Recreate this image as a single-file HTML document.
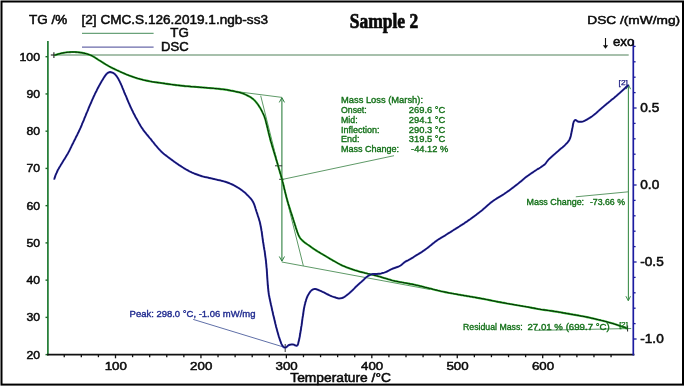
<!DOCTYPE html>
<html><head><meta charset="utf-8"><style>
html,body{margin:0;padding:0;background:#fff;}
svg{display:block;font-family:"Liberation Sans", sans-serif;filter:blur(0.3px);}
</style></head><body>
<svg width="685" height="387" viewBox="0 0 685 387" font-family='"Liberation Sans", sans-serif' fill="#111">
<rect width="685" height="387" fill="#fff"/>
<rect x="1.5" y="1.5" width="681.5" height="383.1" fill="none" stroke="#000" stroke-width="2"/>
<line x1="54" y1="55.1" x2="628.7" y2="55.1" stroke="#8aab90" stroke-width="1.5"/>
<line x1="82" y1="33.3" x2="153.6" y2="33.3" stroke="#6aa27a" stroke-width="1.3"/>
<line x1="82" y1="47.2" x2="153.6" y2="47.2" stroke="#6a6aaa" stroke-width="1.3"/>
<line x1="47.9" y1="41.1" x2="47.9" y2="355.4" stroke="#1f7a32" stroke-width="1.7"/>
<line x1="45.5" y1="354.62" x2="48" y2="354.62" stroke="#1d6b2a" stroke-width="1.4"/>
<text x="26.40" y="358.62" font-size="11.60" fill="#0a0a0a" textLength="13.60" lengthAdjust="spacingAndGlyphs" stroke="#0a0a0a" stroke-width="0.50">20</text>
<line x1="45.5" y1="317.38" x2="48" y2="317.38" stroke="#1d6b2a" stroke-width="1.4"/>
<text x="26.40" y="321.38" font-size="11.60" fill="#0a0a0a" textLength="13.60" lengthAdjust="spacingAndGlyphs" stroke="#0a0a0a" stroke-width="0.50">30</text>
<line x1="45.5" y1="280.14" x2="48" y2="280.14" stroke="#1d6b2a" stroke-width="1.4"/>
<text x="26.40" y="284.14" font-size="11.60" fill="#0a0a0a" textLength="13.60" lengthAdjust="spacingAndGlyphs" stroke="#0a0a0a" stroke-width="0.50">40</text>
<line x1="45.5" y1="242.90" x2="48" y2="242.90" stroke="#1d6b2a" stroke-width="1.4"/>
<text x="26.40" y="246.90" font-size="11.60" fill="#0a0a0a" textLength="13.60" lengthAdjust="spacingAndGlyphs" stroke="#0a0a0a" stroke-width="0.50">50</text>
<line x1="45.5" y1="205.66" x2="48" y2="205.66" stroke="#1d6b2a" stroke-width="1.4"/>
<text x="26.40" y="209.66" font-size="11.60" fill="#0a0a0a" textLength="13.60" lengthAdjust="spacingAndGlyphs" stroke="#0a0a0a" stroke-width="0.50">60</text>
<line x1="45.5" y1="168.42" x2="48" y2="168.42" stroke="#1d6b2a" stroke-width="1.4"/>
<text x="26.40" y="172.42" font-size="11.60" fill="#0a0a0a" textLength="13.60" lengthAdjust="spacingAndGlyphs" stroke="#0a0a0a" stroke-width="0.50">70</text>
<line x1="45.5" y1="131.18" x2="48" y2="131.18" stroke="#1d6b2a" stroke-width="1.4"/>
<text x="26.40" y="135.18" font-size="11.60" fill="#0a0a0a" textLength="13.60" lengthAdjust="spacingAndGlyphs" stroke="#0a0a0a" stroke-width="0.50">80</text>
<line x1="45.5" y1="93.94" x2="48" y2="93.94" stroke="#1d6b2a" stroke-width="1.4"/>
<text x="26.40" y="97.94" font-size="11.60" fill="#0a0a0a" textLength="13.60" lengthAdjust="spacingAndGlyphs" stroke="#0a0a0a" stroke-width="0.50">90</text>
<line x1="45.5" y1="56.70" x2="48" y2="56.70" stroke="#1d6b2a" stroke-width="1.4"/>
<text x="19.45" y="60.70" font-size="11.60" fill="#0a0a0a" textLength="20.55" lengthAdjust="spacingAndGlyphs" stroke="#0a0a0a" stroke-width="0.50">100</text>
<line x1="47.2" y1="354.6" x2="634.4" y2="354.6" stroke="#111" stroke-width="1.8"/>
<line x1="64.24" y1="354.6" x2="64.24" y2="357.20" stroke="#111" stroke-width="1.3"/>
<line x1="81.32" y1="354.6" x2="81.32" y2="357.20" stroke="#111" stroke-width="1.3"/>
<line x1="98.41" y1="354.6" x2="98.41" y2="357.20" stroke="#111" stroke-width="1.3"/>
<line x1="115.50" y1="354.6" x2="115.50" y2="358.30" stroke="#111" stroke-width="1.3"/>
<text x="104.70" y="370.40" font-size="11.80" fill="#0a0a0a" textLength="22.20" lengthAdjust="spacingAndGlyphs" stroke="#0a0a0a" stroke-width="0.50">100</text>
<line x1="132.59" y1="354.6" x2="132.59" y2="357.20" stroke="#111" stroke-width="1.3"/>
<line x1="149.68" y1="354.6" x2="149.68" y2="357.20" stroke="#111" stroke-width="1.3"/>
<line x1="166.76" y1="354.6" x2="166.76" y2="357.20" stroke="#111" stroke-width="1.3"/>
<line x1="183.85" y1="354.6" x2="183.85" y2="357.20" stroke="#111" stroke-width="1.3"/>
<line x1="200.94" y1="354.6" x2="200.94" y2="358.30" stroke="#111" stroke-width="1.3"/>
<text x="190.14" y="370.40" font-size="11.80" fill="#0a0a0a" textLength="22.20" lengthAdjust="spacingAndGlyphs" stroke="#0a0a0a" stroke-width="0.50">200</text>
<line x1="218.03" y1="354.6" x2="218.03" y2="357.20" stroke="#111" stroke-width="1.3"/>
<line x1="235.12" y1="354.6" x2="235.12" y2="357.20" stroke="#111" stroke-width="1.3"/>
<line x1="252.20" y1="354.6" x2="252.20" y2="357.20" stroke="#111" stroke-width="1.3"/>
<line x1="269.29" y1="354.6" x2="269.29" y2="357.20" stroke="#111" stroke-width="1.3"/>
<line x1="286.38" y1="354.6" x2="286.38" y2="358.30" stroke="#111" stroke-width="1.3"/>
<text x="275.58" y="370.40" font-size="11.80" fill="#0a0a0a" textLength="22.20" lengthAdjust="spacingAndGlyphs" stroke="#0a0a0a" stroke-width="0.50">300</text>
<line x1="303.47" y1="354.6" x2="303.47" y2="357.20" stroke="#111" stroke-width="1.3"/>
<line x1="320.56" y1="354.6" x2="320.56" y2="357.20" stroke="#111" stroke-width="1.3"/>
<line x1="337.64" y1="354.6" x2="337.64" y2="357.20" stroke="#111" stroke-width="1.3"/>
<line x1="354.73" y1="354.6" x2="354.73" y2="357.20" stroke="#111" stroke-width="1.3"/>
<line x1="371.82" y1="354.6" x2="371.82" y2="358.30" stroke="#111" stroke-width="1.3"/>
<text x="361.02" y="370.40" font-size="11.80" fill="#0a0a0a" textLength="22.20" lengthAdjust="spacingAndGlyphs" stroke="#0a0a0a" stroke-width="0.50">400</text>
<line x1="388.91" y1="354.6" x2="388.91" y2="357.20" stroke="#111" stroke-width="1.3"/>
<line x1="406.00" y1="354.6" x2="406.00" y2="357.20" stroke="#111" stroke-width="1.3"/>
<line x1="423.08" y1="354.6" x2="423.08" y2="357.20" stroke="#111" stroke-width="1.3"/>
<line x1="440.17" y1="354.6" x2="440.17" y2="357.20" stroke="#111" stroke-width="1.3"/>
<line x1="457.26" y1="354.6" x2="457.26" y2="358.30" stroke="#111" stroke-width="1.3"/>
<text x="446.46" y="370.40" font-size="11.80" fill="#0a0a0a" textLength="22.20" lengthAdjust="spacingAndGlyphs" stroke="#0a0a0a" stroke-width="0.50">500</text>
<line x1="474.35" y1="354.6" x2="474.35" y2="357.20" stroke="#111" stroke-width="1.3"/>
<line x1="491.44" y1="354.6" x2="491.44" y2="357.20" stroke="#111" stroke-width="1.3"/>
<line x1="508.52" y1="354.6" x2="508.52" y2="357.20" stroke="#111" stroke-width="1.3"/>
<line x1="525.61" y1="354.6" x2="525.61" y2="357.20" stroke="#111" stroke-width="1.3"/>
<line x1="542.70" y1="354.6" x2="542.70" y2="358.30" stroke="#111" stroke-width="1.3"/>
<text x="531.90" y="370.40" font-size="11.80" fill="#0a0a0a" textLength="22.20" lengthAdjust="spacingAndGlyphs" stroke="#0a0a0a" stroke-width="0.50">600</text>
<line x1="559.79" y1="354.6" x2="559.79" y2="357.20" stroke="#111" stroke-width="1.3"/>
<line x1="576.88" y1="354.6" x2="576.88" y2="357.20" stroke="#111" stroke-width="1.3"/>
<line x1="593.96" y1="354.6" x2="593.96" y2="357.20" stroke="#111" stroke-width="1.3"/>
<line x1="611.05" y1="354.6" x2="611.05" y2="357.20" stroke="#111" stroke-width="1.3"/>
<text x="290.30" y="382.00" font-size="12.00" fill="#0a0a0a" textLength="100.60" lengthAdjust="spacingAndGlyphs" stroke="#0a0a0a" stroke-width="0.50">Temperature /°C</text>
<line x1="633.3" y1="40.3" x2="633.3" y2="355.4" stroke="#1c1ca0" stroke-width="1.7"/>
<line x1="633.3" y1="339.00" x2="636.60" y2="339.00" stroke="#1c1ca0" stroke-width="1.3"/>
<text x="640.30" y="343.30" font-size="11.90" fill="#0a0a0a" textLength="23.40" lengthAdjust="spacingAndGlyphs" stroke="#0a0a0a" stroke-width="0.50">-1.0</text>
<line x1="633.3" y1="323.60" x2="635.60" y2="323.60" stroke="#1c1ca0" stroke-width="1.3"/>
<line x1="633.3" y1="308.20" x2="635.60" y2="308.20" stroke="#1c1ca0" stroke-width="1.3"/>
<line x1="633.3" y1="292.80" x2="635.60" y2="292.80" stroke="#1c1ca0" stroke-width="1.3"/>
<line x1="633.3" y1="277.40" x2="635.60" y2="277.40" stroke="#1c1ca0" stroke-width="1.3"/>
<line x1="633.3" y1="262.00" x2="636.60" y2="262.00" stroke="#1c1ca0" stroke-width="1.3"/>
<text x="640.30" y="266.30" font-size="11.90" fill="#0a0a0a" textLength="23.40" lengthAdjust="spacingAndGlyphs" stroke="#0a0a0a" stroke-width="0.50">-0.5</text>
<line x1="633.3" y1="246.60" x2="635.60" y2="246.60" stroke="#1c1ca0" stroke-width="1.3"/>
<line x1="633.3" y1="231.20" x2="635.60" y2="231.20" stroke="#1c1ca0" stroke-width="1.3"/>
<line x1="633.3" y1="215.80" x2="635.60" y2="215.80" stroke="#1c1ca0" stroke-width="1.3"/>
<line x1="633.3" y1="200.40" x2="635.60" y2="200.40" stroke="#1c1ca0" stroke-width="1.3"/>
<line x1="633.3" y1="185.00" x2="636.60" y2="185.00" stroke="#1c1ca0" stroke-width="1.3"/>
<text x="640.30" y="189.30" font-size="11.90" fill="#0a0a0a" textLength="18.90" lengthAdjust="spacingAndGlyphs" stroke="#0a0a0a" stroke-width="0.50">0.0</text>
<line x1="633.3" y1="169.60" x2="635.60" y2="169.60" stroke="#1c1ca0" stroke-width="1.3"/>
<line x1="633.3" y1="154.20" x2="635.60" y2="154.20" stroke="#1c1ca0" stroke-width="1.3"/>
<line x1="633.3" y1="138.80" x2="635.60" y2="138.80" stroke="#1c1ca0" stroke-width="1.3"/>
<line x1="633.3" y1="123.40" x2="635.60" y2="123.40" stroke="#1c1ca0" stroke-width="1.3"/>
<line x1="633.3" y1="108.00" x2="636.60" y2="108.00" stroke="#1c1ca0" stroke-width="1.3"/>
<text x="640.30" y="112.30" font-size="11.90" fill="#0a0a0a" textLength="18.90" lengthAdjust="spacingAndGlyphs" stroke="#0a0a0a" stroke-width="0.50">0.5</text>
<line x1="633.3" y1="92.60" x2="635.60" y2="92.60" stroke="#1c1ca0" stroke-width="1.3"/>
<line x1="633.3" y1="77.20" x2="635.60" y2="77.20" stroke="#1c1ca0" stroke-width="1.3"/>
<line x1="633.3" y1="61.80" x2="635.60" y2="61.80" stroke="#1c1ca0" stroke-width="1.3"/>
<line x1="633.3" y1="46.40" x2="635.60" y2="46.40" stroke="#1c1ca0" stroke-width="1.3"/>
<line x1="232" y1="91.0" x2="282" y2="97.4" stroke="#5f9a68" stroke-width="1"/>
<line x1="260.7" y1="95.7" x2="303.4" y2="266" stroke="#5f9a68" stroke-width="1"/>
<line x1="281.8" y1="262.0" x2="430" y2="289.5" stroke="#5f9a68" stroke-width="1"/>
<line x1="281.9" y1="98" x2="281.9" y2="261" stroke="#2f8040" stroke-width="1.1"/>
<polyline points="279.3,102.4 281.9,97.6 284.5,102.4" fill="none" stroke="#2f8040" stroke-width="1"/>
<polyline points="279.3,256.5 281.9,261.2 284.5,256.5" fill="none" stroke="#2f8040" stroke-width="1"/>
<line x1="275" y1="165.8" x2="282.1" y2="165.8" stroke="#333" stroke-width="1"/>
<line x1="279.2" y1="179.3" x2="284.1" y2="179.3" stroke="#333" stroke-width="1"/>
<line x1="282" y1="179.5" x2="394" y2="155.7" stroke="#5f9a68" stroke-width="1"/>
<line x1="628.4" y1="85" x2="628.4" y2="300.5" stroke="#3f8f4c" stroke-width="1.1"/>
<polyline points="626.2,89.2 628.4,84.7 630.6,89.2" fill="none" stroke="#3f8f4c" stroke-width="1"/>
<polyline points="625.9,296.2 628.3,300.8 630.5,296.2" fill="none" stroke="#3f8f4c" stroke-width="1"/>
<line x1="575.8" y1="196.8" x2="628.4" y2="191.8" stroke="#5f9a68" stroke-width="1"/>
<line x1="534.6" y1="330.4" x2="631.2" y2="328.5" stroke="#5f9a68" stroke-width="1"/>
<line x1="627.6" y1="325.5" x2="627.6" y2="331.5" stroke="#222" stroke-width="1"/>
<line x1="193.2" y1="319.4" x2="283.8" y2="347.1" stroke="#6070a8" stroke-width="1"/>
<line x1="285.2" y1="344" x2="285.2" y2="352" stroke="#333" stroke-width="1"/>
<line x1="50.8" y1="55.0" x2="56.6" y2="55.0" stroke="#222" stroke-width="1.1"/>
<line x1="53.9" y1="52.2" x2="53.9" y2="58" stroke="#222" stroke-width="1.1"/>
<path d="M54.6,55.1 L55.6,54.9 L56.9,54.5 L58.3,54.1 L59.8,53.7 L61.2,53.3 L62.7,53.0 L64.2,52.7 L65.6,52.5 L67.1,52.3 L68.6,52.2 L70.1,52.1 L71.6,52.0 L73.1,52.0 L74.6,52.0 L76.1,52.1 L77.6,52.2 L79.1,52.4 L80.6,52.6 L82.1,52.8 L83.5,53.1 L85.0,53.4 L86.5,53.8 L87.9,54.2 L89.3,54.7 L90.7,55.2 L92.1,55.9 L93.4,56.6 L94.7,57.4 L95.9,58.2 L97.2,59.0 L98.4,59.8 L99.7,60.6 L101.0,61.4 L102.2,62.2 L103.5,63.0 L104.8,63.8 L106.1,64.6 L107.4,65.3 L108.7,66.1 L110.0,66.8 L111.3,67.5 L112.7,68.2 L114.0,68.8 L115.4,69.5 L116.7,70.1 L118.1,70.7 L119.5,71.4 L120.8,72.0 L122.2,72.6 L123.6,73.2 L124.9,73.8 L126.3,74.4 L127.7,74.9 L129.1,75.5 L130.5,76.0 L131.9,76.5 L133.3,77.0 L134.8,77.5 L136.2,77.9 L137.6,78.4 L139.1,78.8 L140.5,79.2 L142.0,79.6 L143.4,80.0 L144.9,80.3 L146.3,80.6 L147.8,80.9 L149.3,81.2 L150.7,81.5 L152.2,81.8 L153.7,82.0 L155.2,82.2 L156.7,82.4 L158.2,82.6 L159.6,82.8 L161.1,83.0 L162.6,83.2 L164.1,83.4 L165.6,83.7 L167.1,83.9 L168.6,84.1 L170.0,84.3 L171.5,84.5 L173.0,84.7 L174.5,84.9 L176.0,85.1 L177.5,85.3 L179.0,85.4 L180.5,85.6 L182.0,85.8 L183.4,85.9 L184.9,86.1 L186.4,86.2 L187.9,86.3 L189.4,86.4 L190.9,86.6 L192.4,86.7 L193.9,86.8 L195.4,86.9 L196.9,87.0 L198.4,87.1 L199.9,87.3 L201.4,87.4 L202.9,87.5 L204.4,87.6 L205.9,87.7 L207.4,87.9 L208.9,88.0 L210.4,88.1 L211.9,88.2 L213.3,88.3 L214.8,88.5 L216.3,88.6 L217.8,88.7 L219.3,88.9 L220.8,89.1 L222.3,89.2 L223.8,89.4 L225.3,89.6 L226.8,89.8 L228.2,90.1 L229.7,90.4 L231.2,90.7 L232.7,90.9 L234.1,91.2 L235.6,91.6 L237.1,91.9 L238.5,92.2 L240.0,92.6 L241.4,93.0 L242.8,93.4 L244.2,94.0 L245.6,94.6 L246.9,95.3 L248.3,96.0 L249.6,96.7 L250.9,97.4 L252.1,98.3 L253.3,99.2 L254.4,100.2 L255.4,101.3 L256.4,102.5 L257.3,103.7 L258.2,104.9 L259.0,106.1 L259.8,107.4 L260.6,108.6 L261.3,110.0 L262.0,111.3 L262.6,112.6 L263.3,114.0 L263.9,115.4 L264.5,116.8 L264.9,118.2 L265.4,119.6 L265.8,121.1 L266.1,122.5 L266.5,124.0 L266.9,125.4 L267.2,126.9 L267.6,128.3 L267.9,129.8 L268.3,131.3 L268.6,132.7 L269.0,134.2 L269.3,135.6 L269.7,137.1 L270.1,138.5 L270.4,140.0 L270.8,141.4 L271.3,142.9 L271.7,144.3 L272.1,145.8 L272.5,147.2 L273.0,148.6 L273.4,150.1 L273.8,151.5 L274.3,152.9 L274.7,154.4 L275.2,155.8 L275.6,157.2 L276.0,158.7 L276.4,160.1 L276.9,161.6 L277.3,163.0 L277.7,164.4 L278.1,165.9 L278.5,167.3 L278.9,168.8 L279.4,170.2 L279.8,171.6 L280.2,173.1 L280.7,174.5 L281.1,176.0 L281.5,177.4 L281.9,178.8 L282.3,180.3 L282.6,181.7 L283.0,183.2 L283.4,184.7 L283.7,186.1 L284.1,187.6 L284.4,189.0 L284.8,190.5 L285.1,191.9 L285.5,193.4 L285.9,194.9 L286.2,196.3 L286.6,197.8 L287.0,199.2 L287.4,200.7 L287.8,202.1 L288.2,203.5 L288.7,205.0 L289.1,206.4 L289.6,207.8 L290.0,209.3 L290.5,210.7 L290.9,212.1 L291.4,213.5 L291.9,215.0 L292.3,216.4 L292.8,217.8 L293.2,219.3 L293.7,220.7 L294.1,222.1 L294.6,223.5 L295.0,225.0 L295.5,226.4 L295.9,227.8 L296.4,229.3 L296.9,230.7 L297.3,232.1 L297.9,233.5 L298.4,234.9 L299.1,236.3 L299.8,237.6 L300.7,238.8 L301.7,239.9 L302.8,240.9 L303.9,241.9 L305.1,242.8 L306.3,243.6 L307.5,244.5 L308.8,245.4 L310.0,246.2 L311.2,247.1 L312.4,248.0 L313.7,248.8 L314.9,249.7 L316.2,250.5 L317.5,251.3 L318.7,252.0 L320.0,252.8 L321.3,253.6 L322.6,254.3 L323.9,255.1 L325.2,255.9 L326.5,256.7 L327.7,257.4 L329.0,258.2 L330.3,259.0 L331.6,259.7 L332.9,260.5 L334.2,261.2 L335.5,261.9 L336.8,262.7 L338.1,263.4 L339.5,264.1 L340.8,264.8 L342.2,265.5 L343.5,266.1 L344.9,266.6 L346.3,267.2 L347.7,267.7 L349.1,268.2 L350.5,268.7 L351.9,269.2 L353.4,269.7 L354.8,270.2 L356.2,270.6 L357.7,271.1 L359.1,271.5 L360.5,271.9 L362.0,272.2 L363.5,272.6 L364.9,273.0 L366.4,273.3 L367.8,273.7 L369.3,274.0 L370.7,274.4 L372.2,274.7 L373.7,275.1 L375.1,275.5 L376.6,275.8 L378.0,276.2 L379.5,276.6 L380.9,277.0 L382.3,277.4 L383.8,277.9 L385.2,278.3 L386.7,278.7 L388.1,279.2 L389.5,279.6 L391.0,280.1 L392.4,280.5 L393.8,280.8 L395.3,281.2 L396.8,281.4 L398.3,281.7 L399.7,282.0 L401.2,282.2 L402.7,282.5 L404.2,282.8 L405.6,283.0 L407.1,283.3 L408.6,283.6 L410.1,283.9 L411.5,284.1 L413.0,284.4 L414.5,284.7 L415.9,285.1 L417.4,285.4 L418.9,285.7 L420.3,286.1 L421.8,286.4 L423.2,286.8 L424.7,287.2 L426.1,287.5 L427.6,287.9 L429.1,288.3 L430.5,288.6 L432.0,289.0 L433.4,289.4 L434.9,289.8 L436.3,290.1 L437.8,290.5 L439.2,290.8 L440.7,291.2 L442.2,291.5 L443.6,291.8 L445.1,292.1 L446.6,292.4 L448.0,292.7 L449.5,293.0 L451.0,293.2 L452.5,293.5 L453.9,293.8 L455.4,294.0 L456.9,294.3 L458.4,294.6 L459.9,294.8 L461.3,295.1 L462.8,295.3 L464.3,295.6 L465.8,295.8 L467.2,296.1 L468.7,296.3 L470.2,296.6 L471.7,296.8 L473.2,297.1 L474.6,297.3 L476.1,297.6 L477.6,297.9 L479.1,298.1 L480.5,298.4 L482.0,298.7 L483.5,298.9 L485.0,299.2 L486.4,299.5 L487.9,299.8 L489.4,300.1 L490.9,300.4 L492.3,300.7 L493.8,301.0 L495.3,301.3 L496.7,301.6 L498.2,301.9 L499.7,302.1 L501.2,302.4 L502.6,302.7 L504.1,302.9 L505.6,303.2 L507.1,303.5 L508.5,303.7 L510.0,304.0 L511.5,304.2 L513.0,304.5 L514.5,304.8 L515.9,305.0 L517.4,305.3 L518.9,305.5 L520.4,305.8 L521.8,306.0 L523.3,306.3 L524.8,306.5 L526.3,306.8 L527.8,307.0 L529.2,307.3 L530.7,307.6 L532.2,307.9 L533.7,308.1 L535.1,308.4 L536.6,308.7 L538.1,309.0 L539.6,309.2 L541.0,309.5 L542.5,309.7 L544.0,309.9 L545.5,310.1 L547.0,310.3 L548.5,310.5 L549.9,310.7 L551.4,310.9 L552.9,311.1 L554.4,311.4 L555.9,311.6 L557.4,311.8 L558.8,312.1 L560.3,312.3 L561.8,312.6 L563.3,312.9 L564.8,313.1 L566.2,313.4 L567.7,313.6 L569.2,313.9 L570.7,314.2 L572.1,314.4 L573.6,314.7 L575.1,314.9 L576.6,315.2 L578.1,315.4 L579.5,315.7 L581.0,316.0 L582.5,316.2 L584.0,316.5 L585.4,316.8 L586.9,317.1 L588.4,317.4 L589.8,317.7 L591.3,318.1 L592.8,318.4 L594.2,318.7 L595.7,319.1 L597.1,319.4 L598.6,319.8 L600.1,320.1 L601.5,320.5 L603.0,320.8 L604.4,321.2 L605.9,321.6 L607.3,322.0 L608.8,322.4 L610.2,322.8 L611.7,323.2 L613.1,323.6 L614.5,324.1 L616.0,324.5 L617.4,325.0 L618.8,325.5 L620.2,326.0 L621.6,326.4 L623.1,326.9 L624.5,327.4 L625.8,327.9 L626.7,328.2 L626.7,328.2" fill="none" stroke="#2db52d" stroke-width="2.1" stroke-linejoin="round"/>
<path d="M54.6,55.1 L55.6,54.9 L56.9,54.5 L58.3,54.1 L59.8,53.7 L61.2,53.3 L62.7,53.0 L64.2,52.7 L65.6,52.5 L67.1,52.3 L68.6,52.2 L70.1,52.1 L71.6,52.0 L73.1,52.0 L74.6,52.0 L76.1,52.1 L77.6,52.2 L79.1,52.4 L80.6,52.6 L82.1,52.8 L83.5,53.1 L85.0,53.4 L86.5,53.8 L87.9,54.2 L89.3,54.7 L90.7,55.2 L92.1,55.9 L93.4,56.6 L94.7,57.4 L95.9,58.2 L97.2,59.0 L98.4,59.8 L99.7,60.6 L101.0,61.4 L102.2,62.2 L103.5,63.0 L104.8,63.8 L106.1,64.6 L107.4,65.3 L108.7,66.1 L110.0,66.8 L111.3,67.5 L112.7,68.2 L114.0,68.8 L115.4,69.5 L116.7,70.1 L118.1,70.7 L119.5,71.4 L120.8,72.0 L122.2,72.6 L123.6,73.2 L124.9,73.8 L126.3,74.4 L127.7,74.9 L129.1,75.5 L130.5,76.0 L131.9,76.5 L133.3,77.0 L134.8,77.5 L136.2,77.9 L137.6,78.4 L139.1,78.8 L140.5,79.2 L142.0,79.6 L143.4,80.0 L144.9,80.3 L146.3,80.6 L147.8,80.9 L149.3,81.2 L150.7,81.5 L152.2,81.8 L153.7,82.0 L155.2,82.2 L156.7,82.4 L158.2,82.6 L159.6,82.8 L161.1,83.0 L162.6,83.2 L164.1,83.4 L165.6,83.7 L167.1,83.9 L168.6,84.1 L170.0,84.3 L171.5,84.5 L173.0,84.7 L174.5,84.9 L176.0,85.1 L177.5,85.3 L179.0,85.4 L180.5,85.6 L182.0,85.8 L183.4,85.9 L184.9,86.1 L186.4,86.2 L187.9,86.3 L189.4,86.4 L190.9,86.6 L192.4,86.7 L193.9,86.8 L195.4,86.9 L196.9,87.0 L198.4,87.1 L199.9,87.3 L201.4,87.4 L202.9,87.5 L204.4,87.6 L205.9,87.7 L207.4,87.9 L208.9,88.0 L210.4,88.1 L211.9,88.2 L213.3,88.3 L214.8,88.5 L216.3,88.6 L217.8,88.7 L219.3,88.9 L220.8,89.1 L222.3,89.2 L223.8,89.4 L225.3,89.6 L226.8,89.8 L228.2,90.1 L229.7,90.4 L231.2,90.7 L232.7,90.9 L234.1,91.2 L235.6,91.6 L237.1,91.9 L238.5,92.2 L240.0,92.6 L241.4,93.0 L242.8,93.4 L244.2,94.0 L245.6,94.6 L246.9,95.3 L248.3,96.0 L249.6,96.7 L250.9,97.4 L252.1,98.3 L253.3,99.2 L254.4,100.2 L255.4,101.3 L256.4,102.5 L257.3,103.7 L258.2,104.9 L259.0,106.1 L259.8,107.4 L260.6,108.6 L261.3,110.0 L262.0,111.3 L262.6,112.6 L263.3,114.0 L263.9,115.4 L264.5,116.8 L264.9,118.2 L265.4,119.6 L265.8,121.1 L266.1,122.5 L266.5,124.0 L266.9,125.4 L267.2,126.9 L267.6,128.3 L267.9,129.8 L268.3,131.3 L268.6,132.7 L269.0,134.2 L269.3,135.6 L269.7,137.1 L270.1,138.5 L270.4,140.0 L270.8,141.4 L271.3,142.9 L271.7,144.3 L272.1,145.8 L272.5,147.2 L273.0,148.6 L273.4,150.1 L273.8,151.5 L274.3,152.9 L274.7,154.4 L275.2,155.8 L275.6,157.2 L276.0,158.7 L276.4,160.1 L276.9,161.6 L277.3,163.0 L277.7,164.4 L278.1,165.9 L278.5,167.3 L278.9,168.8 L279.4,170.2 L279.8,171.6 L280.2,173.1 L280.7,174.5 L281.1,176.0 L281.5,177.4 L281.9,178.8 L282.3,180.3 L282.6,181.7 L283.0,183.2 L283.4,184.7 L283.7,186.1 L284.1,187.6 L284.4,189.0 L284.8,190.5 L285.1,191.9 L285.5,193.4 L285.9,194.9 L286.2,196.3 L286.6,197.8 L287.0,199.2 L287.4,200.7 L287.8,202.1 L288.2,203.5 L288.7,205.0 L289.1,206.4 L289.6,207.8 L290.0,209.3 L290.5,210.7 L290.9,212.1 L291.4,213.5 L291.9,215.0 L292.3,216.4 L292.8,217.8 L293.2,219.3 L293.7,220.7 L294.1,222.1 L294.6,223.5 L295.0,225.0 L295.5,226.4 L295.9,227.8 L296.4,229.3 L296.9,230.7 L297.3,232.1 L297.9,233.5 L298.4,234.9 L299.1,236.3 L299.8,237.6 L300.7,238.8 L301.7,239.9 L302.8,240.9 L303.9,241.9 L305.1,242.8 L306.3,243.6 L307.5,244.5 L308.8,245.4 L310.0,246.2 L311.2,247.1 L312.4,248.0 L313.7,248.8 L314.9,249.7 L316.2,250.5 L317.5,251.3 L318.7,252.0 L320.0,252.8 L321.3,253.6 L322.6,254.3 L323.9,255.1 L325.2,255.9 L326.5,256.7 L327.7,257.4 L329.0,258.2 L330.3,259.0 L331.6,259.7 L332.9,260.5 L334.2,261.2 L335.5,261.9 L336.8,262.7 L338.1,263.4 L339.5,264.1 L340.8,264.8 L342.2,265.5 L343.5,266.1 L344.9,266.6 L346.3,267.2 L347.7,267.7 L349.1,268.2 L350.5,268.7 L351.9,269.2 L353.4,269.7 L354.8,270.2 L356.2,270.6 L357.7,271.1 L359.1,271.5 L360.5,271.9 L362.0,272.2 L363.5,272.6 L364.9,273.0 L366.4,273.3 L367.8,273.7 L369.3,274.0 L370.7,274.4 L372.2,274.7 L373.7,275.1 L375.1,275.5 L376.6,275.8 L378.0,276.2 L379.5,276.6 L380.9,277.0 L382.3,277.4 L383.8,277.9 L385.2,278.3 L386.7,278.7 L388.1,279.2 L389.5,279.6 L391.0,280.1 L392.4,280.5 L393.8,280.8 L395.3,281.2 L396.8,281.4 L398.3,281.7 L399.7,282.0 L401.2,282.2 L402.7,282.5 L404.2,282.8 L405.6,283.0 L407.1,283.3 L408.6,283.6 L410.1,283.9 L411.5,284.1 L413.0,284.4 L414.5,284.7 L415.9,285.1 L417.4,285.4 L418.9,285.7 L420.3,286.1 L421.8,286.4 L423.2,286.8 L424.7,287.2 L426.1,287.5 L427.6,287.9 L429.1,288.3 L430.5,288.6 L432.0,289.0 L433.4,289.4 L434.9,289.8 L436.3,290.1 L437.8,290.5 L439.2,290.8 L440.7,291.2 L442.2,291.5 L443.6,291.8 L445.1,292.1 L446.6,292.4 L448.0,292.7 L449.5,293.0 L451.0,293.2 L452.5,293.5 L453.9,293.8 L455.4,294.0 L456.9,294.3 L458.4,294.6 L459.9,294.8 L461.3,295.1 L462.8,295.3 L464.3,295.6 L465.8,295.8 L467.2,296.1 L468.7,296.3 L470.2,296.6 L471.7,296.8 L473.2,297.1 L474.6,297.3 L476.1,297.6 L477.6,297.9 L479.1,298.1 L480.5,298.4 L482.0,298.7 L483.5,298.9 L485.0,299.2 L486.4,299.5 L487.9,299.8 L489.4,300.1 L490.9,300.4 L492.3,300.7 L493.8,301.0 L495.3,301.3 L496.7,301.6 L498.2,301.9 L499.7,302.1 L501.2,302.4 L502.6,302.7 L504.1,302.9 L505.6,303.2 L507.1,303.5 L508.5,303.7 L510.0,304.0 L511.5,304.2 L513.0,304.5 L514.5,304.8 L515.9,305.0 L517.4,305.3 L518.9,305.5 L520.4,305.8 L521.8,306.0 L523.3,306.3 L524.8,306.5 L526.3,306.8 L527.8,307.0 L529.2,307.3 L530.7,307.6 L532.2,307.9 L533.7,308.1 L535.1,308.4 L536.6,308.7 L538.1,309.0 L539.6,309.2 L541.0,309.5 L542.5,309.7 L544.0,309.9 L545.5,310.1 L547.0,310.3 L548.5,310.5 L549.9,310.7 L551.4,310.9 L552.9,311.1 L554.4,311.4 L555.9,311.6 L557.4,311.8 L558.8,312.1 L560.3,312.3 L561.8,312.6 L563.3,312.9 L564.8,313.1 L566.2,313.4 L567.7,313.6 L569.2,313.9 L570.7,314.2 L572.1,314.4 L573.6,314.7 L575.1,314.9 L576.6,315.2 L578.1,315.4 L579.5,315.7 L581.0,316.0 L582.5,316.2 L584.0,316.5 L585.4,316.8 L586.9,317.1 L588.4,317.4 L589.8,317.7 L591.3,318.1 L592.8,318.4 L594.2,318.7 L595.7,319.1 L597.1,319.4 L598.6,319.8 L600.1,320.1 L601.5,320.5 L603.0,320.8 L604.4,321.2 L605.9,321.6 L607.3,322.0 L608.8,322.4 L610.2,322.8 L611.7,323.2 L613.1,323.6 L614.5,324.1 L616.0,324.5 L617.4,325.0 L618.8,325.5 L620.2,326.0 L621.6,326.4 L623.1,326.9 L624.5,327.4 L625.8,327.9 L626.7,328.2 L626.7,328.2" fill="none" stroke="#051505" stroke-width="1.0" stroke-linejoin="round"/>
<path d="M54.1,179.5 L54.5,178.4 L54.9,177.1 L55.4,175.6 L56.0,174.2 L56.6,172.9 L57.2,171.5 L57.8,170.1 L58.6,168.8 L59.3,167.5 L60.1,166.2 L60.8,165.0 L61.6,163.7 L62.4,162.4 L63.2,161.1 L64.0,159.8 L64.8,158.6 L65.6,157.3 L66.3,156.0 L67.1,154.7 L67.9,153.4 L68.6,152.1 L69.3,150.8 L70.0,149.4 L70.6,148.1 L71.3,146.7 L71.9,145.4 L72.6,144.0 L73.3,142.7 L73.9,141.4 L74.6,140.0 L75.3,138.7 L75.9,137.3 L76.6,136.0 L77.3,134.7 L77.9,133.3 L78.6,132.0 L79.2,130.6 L79.9,129.2 L80.5,127.9 L81.1,126.5 L81.7,125.1 L82.2,123.7 L82.8,122.3 L83.4,121.0 L84.0,119.6 L84.5,118.2 L85.1,116.8 L85.7,115.4 L86.2,114.0 L86.8,112.6 L87.4,111.3 L88.0,109.9 L88.5,108.5 L89.1,107.1 L89.7,105.7 L90.3,104.3 L90.9,103.0 L91.5,101.6 L92.1,100.2 L92.7,98.8 L93.3,97.5 L93.9,96.1 L94.6,94.7 L95.2,93.4 L95.9,92.0 L96.6,90.7 L97.2,89.4 L97.9,88.0 L98.6,86.7 L99.3,85.4 L100.1,84.1 L100.8,82.8 L101.5,81.5 L102.3,80.2 L103.1,78.9 L103.9,77.6 L104.7,76.4 L105.6,75.1 L106.5,74.0 L107.6,73.0 L108.9,72.3 L110.3,72.1 L111.8,72.4 L113.1,72.9 L114.4,73.8 L115.5,74.8 L116.4,75.9 L117.3,77.2 L118.1,78.4 L118.8,79.8 L119.5,81.1 L120.1,82.4 L120.8,83.8 L121.4,85.2 L122.0,86.5 L122.5,87.9 L123.1,89.3 L123.7,90.7 L124.2,92.1 L124.8,93.5 L125.4,94.9 L126.0,96.2 L126.6,97.6 L127.1,99.0 L127.7,100.4 L128.3,101.8 L128.9,103.2 L129.5,104.5 L130.1,105.9 L130.7,107.3 L131.4,108.6 L132.0,110.0 L132.7,111.3 L133.3,112.7 L134.0,114.0 L134.7,115.3 L135.4,116.7 L136.1,118.0 L136.9,119.3 L137.6,120.6 L138.3,121.9 L139.0,123.2 L139.8,124.5 L140.5,125.8 L141.3,127.1 L142.2,128.3 L143.0,129.6 L143.9,130.8 L144.8,132.0 L145.8,133.1 L146.7,134.3 L147.7,135.5 L148.6,136.6 L149.6,137.8 L150.6,138.9 L151.5,140.1 L152.4,141.3 L153.4,142.4 L154.3,143.6 L155.2,144.8 L156.2,145.9 L157.2,147.1 L158.1,148.2 L159.1,149.3 L160.2,150.4 L161.2,151.5 L162.3,152.5 L163.4,153.5 L164.6,154.5 L165.8,155.4 L167.0,156.3 L168.2,157.2 L169.4,158.1 L170.6,159.0 L171.8,159.9 L173.0,160.8 L174.2,161.7 L175.4,162.5 L176.6,163.4 L177.9,164.2 L179.1,165.1 L180.4,165.9 L181.6,166.7 L182.9,167.5 L184.2,168.3 L185.5,169.1 L186.8,169.8 L188.1,170.5 L189.4,171.3 L190.7,171.9 L192.1,172.6 L193.5,173.2 L194.9,173.8 L196.3,174.3 L197.7,174.8 L199.1,175.3 L200.5,175.7 L201.9,176.2 L203.4,176.6 L204.8,177.0 L206.3,177.3 L207.8,177.6 L209.2,177.9 L210.7,178.2 L212.2,178.6 L213.6,178.9 L215.1,179.3 L216.5,179.6 L218.0,180.0 L219.5,180.3 L220.9,180.6 L222.4,181.0 L223.8,181.4 L225.3,181.8 L226.7,182.3 L228.1,182.8 L229.5,183.3 L230.9,183.9 L232.3,184.5 L233.6,185.2 L234.9,185.9 L236.2,186.6 L237.5,187.4 L238.8,188.1 L240.1,189.0 L241.3,189.8 L242.5,190.7 L243.7,191.7 L244.8,192.6 L245.9,193.6 L247.0,194.7 L248.1,195.7 L249.1,196.8 L250.1,197.9 L251.1,199.0 L252.0,200.2 L252.8,201.5 L253.5,202.8 L254.1,204.2 L254.6,205.6 L255.1,207.0 L255.5,208.5 L256.0,209.9 L256.4,211.3 L256.9,212.8 L257.4,214.2 L257.8,215.6 L258.3,217.0 L258.8,218.5 L259.2,219.9 L259.6,221.3 L260.0,222.8 L260.3,224.3 L260.6,225.7 L260.9,227.2 L261.2,228.7 L261.4,230.2 L261.7,231.6 L261.9,233.1 L262.1,234.6 L262.3,236.1 L262.5,237.6 L262.7,239.1 L262.9,240.5 L263.1,242.0 L263.4,243.5 L263.6,245.0 L263.8,246.5 L264.1,248.0 L264.3,249.4 L264.6,250.9 L264.8,252.4 L265.0,253.9 L265.2,255.4 L265.4,256.9 L265.6,258.3 L265.8,259.8 L266.0,261.3 L266.1,262.8 L266.3,264.3 L266.4,265.8 L266.5,267.3 L266.7,268.8 L266.8,270.3 L266.9,271.8 L267.0,273.3 L267.1,274.8 L267.2,276.3 L267.3,277.8 L267.4,279.3 L267.5,280.8 L267.6,282.3 L267.7,283.8 L267.8,285.2 L268.0,286.7 L268.1,288.2 L268.3,289.7 L268.4,291.2 L268.6,292.7 L268.8,294.2 L269.1,295.7 L269.4,297.1 L269.6,298.6 L270.0,300.1 L270.3,301.5 L270.6,303.0 L270.9,304.5 L271.3,305.9 L271.6,307.4 L271.9,308.9 L272.2,310.3 L272.6,311.8 L272.9,313.3 L273.2,314.7 L273.6,316.2 L273.9,317.6 L274.3,319.1 L274.6,320.6 L275.0,322.0 L275.3,323.5 L275.7,324.9 L276.0,326.4 L276.4,327.8 L276.8,329.3 L277.2,330.7 L277.6,332.2 L278.0,333.6 L278.4,335.1 L278.8,336.5 L279.3,337.9 L279.8,339.4 L280.3,340.8 L280.8,342.2 L281.3,343.6 L282.0,344.9 L282.8,346.2 L283.8,347.2 L285.1,347.6 L286.3,347.2 L287.4,346.2 L288.5,345.2 L289.9,344.7 L291.4,344.4 L292.8,344.4 L294.2,344.8 L295.5,345.5 L296.8,345.7 L297.7,344.9 L298.2,343.5 L298.5,342.1 L298.9,340.6 L299.2,339.2 L299.5,337.7 L299.8,336.2 L300.0,334.7 L300.3,333.3 L300.5,331.8 L300.8,330.3 L301.0,328.8 L301.2,327.3 L301.5,325.9 L301.7,324.4 L301.9,322.9 L302.1,321.4 L302.3,319.9 L302.5,318.4 L302.7,316.9 L303.0,315.5 L303.2,314.0 L303.4,312.5 L303.6,311.0 L303.8,309.5 L304.1,308.1 L304.4,306.6 L304.7,305.1 L305.1,303.7 L305.4,302.2 L305.9,300.8 L306.3,299.3 L306.8,297.9 L307.4,296.5 L308.0,295.2 L308.8,293.9 L309.6,292.6 L310.5,291.4 L311.5,290.4 L312.7,289.5 L314.1,289.1 L315.6,289.1 L317.0,289.4 L318.4,290.0 L319.8,290.6 L321.2,291.2 L322.5,291.8 L323.9,292.4 L325.2,293.1 L326.5,293.8 L327.9,294.5 L329.2,295.2 L330.6,295.8 L332.0,296.4 L333.4,296.9 L334.8,297.3 L336.2,297.8 L337.7,298.2 L339.1,298.4 L340.6,298.3 L342.1,298.0 L343.5,297.5 L344.8,296.7 L346.0,295.8 L347.1,294.9 L348.3,294.0 L349.5,293.0 L350.6,292.0 L351.7,291.0 L352.8,290.0 L353.9,288.9 L354.9,287.8 L355.9,286.8 L357.0,285.7 L358.1,284.7 L359.2,283.7 L360.3,282.7 L361.5,281.7 L362.6,280.7 L363.7,279.7 L364.8,278.6 L365.9,277.6 L367.0,276.7 L368.3,275.8 L369.6,275.1 L370.9,274.5 L372.4,274.1 L373.8,273.9 L375.3,273.9 L376.8,273.9 L378.3,273.8 L379.8,273.7 L381.3,273.4 L382.7,273.0 L384.2,272.6 L385.6,272.1 L387.0,271.5 L388.3,270.8 L389.6,270.1 L391.0,269.4 L392.3,268.8 L393.8,268.3 L395.2,267.8 L396.6,267.3 L398.0,266.8 L399.4,266.2 L400.6,265.5 L401.8,264.6 L403.0,263.6 L404.1,262.6 L405.3,261.7 L406.6,261.0 L408.0,260.3 L409.3,259.6 L410.6,258.9 L411.9,258.1 L413.2,257.3 L414.4,256.5 L415.7,255.7 L417.0,254.9 L418.3,254.2 L419.5,253.4 L420.8,252.6 L422.1,251.8 L423.3,250.9 L424.5,250.1 L425.7,249.2 L427.0,248.3 L428.2,247.4 L429.3,246.5 L430.5,245.5 L431.7,244.6 L432.8,243.6 L434.0,242.7 L435.2,241.7 L436.4,240.9 L437.6,240.0 L438.9,239.2 L440.2,238.4 L441.4,237.6 L442.7,236.8 L444.0,236.1 L445.3,235.3 L446.5,234.5 L447.8,233.7 L449.1,232.9 L450.4,232.1 L451.6,231.3 L452.9,230.5 L454.2,229.7 L455.5,228.9 L456.7,228.1 L458.0,227.3 L459.3,226.5 L460.5,225.7 L461.8,224.9 L463.0,224.1 L464.3,223.3 L465.5,222.4 L466.8,221.6 L468.0,220.7 L469.2,219.9 L470.5,219.0 L471.7,218.1 L472.9,217.2 L474.1,216.4 L475.3,215.5 L476.5,214.6 L477.7,213.6 L478.9,212.7 L480.1,211.8 L481.2,210.9 L482.4,209.9 L483.5,208.9 L484.7,208.0 L485.8,207.0 L486.9,206.0 L488.0,205.0 L489.2,204.0 L490.3,203.0 L491.5,202.1 L492.7,201.2 L493.9,200.3 L495.2,199.5 L496.5,198.7 L497.7,197.9 L499.0,197.1 L500.3,196.3 L501.5,195.6 L502.8,194.8 L504.1,194.0 L505.3,193.2 L506.6,192.3 L507.8,191.4 L509.0,190.6 L510.2,189.7 L511.4,188.8 L512.6,187.9 L513.8,187.0 L515.0,186.0 L516.2,185.1 L517.4,184.2 L518.6,183.3 L519.7,182.3 L520.9,181.4 L522.0,180.4 L523.1,179.4 L524.3,178.4 L525.4,177.5 L526.6,176.6 L527.9,175.7 L529.1,174.9 L530.3,174.0 L531.6,173.1 L532.8,172.3 L534.0,171.5 L535.3,170.7 L536.6,169.8 L537.8,169.0 L539.1,168.3 L540.4,167.5 L541.6,166.7 L542.9,165.8 L544.1,164.9 L545.2,163.9 L546.1,162.8 L547.0,161.5 L547.9,160.3 L548.9,159.2 L550.0,158.2 L551.1,157.2 L552.2,156.2 L553.3,155.2 L554.5,154.2 L555.6,153.3 L556.7,152.3 L557.9,151.3 L559.0,150.3 L560.1,149.3 L561.3,148.3 L562.4,147.4 L563.5,146.4 L564.7,145.4 L565.7,144.3 L566.8,143.3 L567.8,142.1 L568.7,140.9 L569.4,139.7 L570.1,138.3 L570.5,136.9 L570.9,135.4 L571.2,134.0 L571.5,132.5 L571.8,131.0 L572.1,129.5 L572.4,128.1 L572.7,126.6 L572.9,125.1 L573.2,123.7 L573.6,122.2 L574.2,120.9 L575.1,120.0 L576.2,120.3 L577.3,121.2 L578.6,121.7 L580.1,121.8 L581.6,121.7 L583.1,121.4 L584.5,120.9 L585.8,120.2 L587.1,119.5 L588.4,118.7 L589.7,117.9 L590.9,117.1 L592.2,116.2 L593.4,115.3 L594.5,114.4 L595.7,113.5 L596.8,112.5 L597.9,111.5 L599.0,110.4 L600.1,109.4 L601.3,108.4 L602.4,107.5 L603.6,106.5 L604.7,105.5 L605.9,104.6 L607.0,103.6 L608.2,102.7 L609.3,101.7 L610.5,100.8 L611.6,99.8 L612.8,98.9 L614.0,97.9 L615.1,96.9 L616.3,96.0 L617.4,95.0 L618.5,94.0 L619.7,93.0 L620.8,92.0 L621.9,91.0 L623.0,90.0 L624.1,89.0 L625.2,88.0 L626.3,87.0 L627.5,86.0 L628.4,85.1 L628.6,84.9" fill="none" stroke="#2a2aa8" stroke-width="2.0" stroke-linejoin="round"/>
<path d="M54.1,179.5 L54.5,178.4 L54.9,177.1 L55.4,175.6 L56.0,174.2 L56.6,172.9 L57.2,171.5 L57.8,170.1 L58.6,168.8 L59.3,167.5 L60.1,166.2 L60.8,165.0 L61.6,163.7 L62.4,162.4 L63.2,161.1 L64.0,159.8 L64.8,158.6 L65.6,157.3 L66.3,156.0 L67.1,154.7 L67.9,153.4 L68.6,152.1 L69.3,150.8 L70.0,149.4 L70.6,148.1 L71.3,146.7 L71.9,145.4 L72.6,144.0 L73.3,142.7 L73.9,141.4 L74.6,140.0 L75.3,138.7 L75.9,137.3 L76.6,136.0 L77.3,134.7 L77.9,133.3 L78.6,132.0 L79.2,130.6 L79.9,129.2 L80.5,127.9 L81.1,126.5 L81.7,125.1 L82.2,123.7 L82.8,122.3 L83.4,121.0 L84.0,119.6 L84.5,118.2 L85.1,116.8 L85.7,115.4 L86.2,114.0 L86.8,112.6 L87.4,111.3 L88.0,109.9 L88.5,108.5 L89.1,107.1 L89.7,105.7 L90.3,104.3 L90.9,103.0 L91.5,101.6 L92.1,100.2 L92.7,98.8 L93.3,97.5 L93.9,96.1 L94.6,94.7 L95.2,93.4 L95.9,92.0 L96.6,90.7 L97.2,89.4 L97.9,88.0 L98.6,86.7 L99.3,85.4 L100.1,84.1 L100.8,82.8 L101.5,81.5 L102.3,80.2 L103.1,78.9 L103.9,77.6 L104.7,76.4 L105.6,75.1 L106.5,74.0 L107.6,73.0 L108.9,72.3 L110.3,72.1 L111.8,72.4 L113.1,72.9 L114.4,73.8 L115.5,74.8 L116.4,75.9 L117.3,77.2 L118.1,78.4 L118.8,79.8 L119.5,81.1 L120.1,82.4 L120.8,83.8 L121.4,85.2 L122.0,86.5 L122.5,87.9 L123.1,89.3 L123.7,90.7 L124.2,92.1 L124.8,93.5 L125.4,94.9 L126.0,96.2 L126.6,97.6 L127.1,99.0 L127.7,100.4 L128.3,101.8 L128.9,103.2 L129.5,104.5 L130.1,105.9 L130.7,107.3 L131.4,108.6 L132.0,110.0 L132.7,111.3 L133.3,112.7 L134.0,114.0 L134.7,115.3 L135.4,116.7 L136.1,118.0 L136.9,119.3 L137.6,120.6 L138.3,121.9 L139.0,123.2 L139.8,124.5 L140.5,125.8 L141.3,127.1 L142.2,128.3 L143.0,129.6 L143.9,130.8 L144.8,132.0 L145.8,133.1 L146.7,134.3 L147.7,135.5 L148.6,136.6 L149.6,137.8 L150.6,138.9 L151.5,140.1 L152.4,141.3 L153.4,142.4 L154.3,143.6 L155.2,144.8 L156.2,145.9 L157.2,147.1 L158.1,148.2 L159.1,149.3 L160.2,150.4 L161.2,151.5 L162.3,152.5 L163.4,153.5 L164.6,154.5 L165.8,155.4 L167.0,156.3 L168.2,157.2 L169.4,158.1 L170.6,159.0 L171.8,159.9 L173.0,160.8 L174.2,161.7 L175.4,162.5 L176.6,163.4 L177.9,164.2 L179.1,165.1 L180.4,165.9 L181.6,166.7 L182.9,167.5 L184.2,168.3 L185.5,169.1 L186.8,169.8 L188.1,170.5 L189.4,171.3 L190.7,171.9 L192.1,172.6 L193.5,173.2 L194.9,173.8 L196.3,174.3 L197.7,174.8 L199.1,175.3 L200.5,175.7 L201.9,176.2 L203.4,176.6 L204.8,177.0 L206.3,177.3 L207.8,177.6 L209.2,177.9 L210.7,178.2 L212.2,178.6 L213.6,178.9 L215.1,179.3 L216.5,179.6 L218.0,180.0 L219.5,180.3 L220.9,180.6 L222.4,181.0 L223.8,181.4 L225.3,181.8 L226.7,182.3 L228.1,182.8 L229.5,183.3 L230.9,183.9 L232.3,184.5 L233.6,185.2 L234.9,185.9 L236.2,186.6 L237.5,187.4 L238.8,188.1 L240.1,189.0 L241.3,189.8 L242.5,190.7 L243.7,191.7 L244.8,192.6 L245.9,193.6 L247.0,194.7 L248.1,195.7 L249.1,196.8 L250.1,197.9 L251.1,199.0 L252.0,200.2 L252.8,201.5 L253.5,202.8 L254.1,204.2 L254.6,205.6 L255.1,207.0 L255.5,208.5 L256.0,209.9 L256.4,211.3 L256.9,212.8 L257.4,214.2 L257.8,215.6 L258.3,217.0 L258.8,218.5 L259.2,219.9 L259.6,221.3 L260.0,222.8 L260.3,224.3 L260.6,225.7 L260.9,227.2 L261.2,228.7 L261.4,230.2 L261.7,231.6 L261.9,233.1 L262.1,234.6 L262.3,236.1 L262.5,237.6 L262.7,239.1 L262.9,240.5 L263.1,242.0 L263.4,243.5 L263.6,245.0 L263.8,246.5 L264.1,248.0 L264.3,249.4 L264.6,250.9 L264.8,252.4 L265.0,253.9 L265.2,255.4 L265.4,256.9 L265.6,258.3 L265.8,259.8 L266.0,261.3 L266.1,262.8 L266.3,264.3 L266.4,265.8 L266.5,267.3 L266.7,268.8 L266.8,270.3 L266.9,271.8 L267.0,273.3 L267.1,274.8 L267.2,276.3 L267.3,277.8 L267.4,279.3 L267.5,280.8 L267.6,282.3 L267.7,283.8 L267.8,285.2 L268.0,286.7 L268.1,288.2 L268.3,289.7 L268.4,291.2 L268.6,292.7 L268.8,294.2 L269.1,295.7 L269.4,297.1 L269.6,298.6 L270.0,300.1 L270.3,301.5 L270.6,303.0 L270.9,304.5 L271.3,305.9 L271.6,307.4 L271.9,308.9 L272.2,310.3 L272.6,311.8 L272.9,313.3 L273.2,314.7 L273.6,316.2 L273.9,317.6 L274.3,319.1 L274.6,320.6 L275.0,322.0 L275.3,323.5 L275.7,324.9 L276.0,326.4 L276.4,327.8 L276.8,329.3 L277.2,330.7 L277.6,332.2 L278.0,333.6 L278.4,335.1 L278.8,336.5 L279.3,337.9 L279.8,339.4 L280.3,340.8 L280.8,342.2 L281.3,343.6 L282.0,344.9 L282.8,346.2 L283.8,347.2 L285.1,347.6 L286.3,347.2 L287.4,346.2 L288.5,345.2 L289.9,344.7 L291.4,344.4 L292.8,344.4 L294.2,344.8 L295.5,345.5 L296.8,345.7 L297.7,344.9 L298.2,343.5 L298.5,342.1 L298.9,340.6 L299.2,339.2 L299.5,337.7 L299.8,336.2 L300.0,334.7 L300.3,333.3 L300.5,331.8 L300.8,330.3 L301.0,328.8 L301.2,327.3 L301.5,325.9 L301.7,324.4 L301.9,322.9 L302.1,321.4 L302.3,319.9 L302.5,318.4 L302.7,316.9 L303.0,315.5 L303.2,314.0 L303.4,312.5 L303.6,311.0 L303.8,309.5 L304.1,308.1 L304.4,306.6 L304.7,305.1 L305.1,303.7 L305.4,302.2 L305.9,300.8 L306.3,299.3 L306.8,297.9 L307.4,296.5 L308.0,295.2 L308.8,293.9 L309.6,292.6 L310.5,291.4 L311.5,290.4 L312.7,289.5 L314.1,289.1 L315.6,289.1 L317.0,289.4 L318.4,290.0 L319.8,290.6 L321.2,291.2 L322.5,291.8 L323.9,292.4 L325.2,293.1 L326.5,293.8 L327.9,294.5 L329.2,295.2 L330.6,295.8 L332.0,296.4 L333.4,296.9 L334.8,297.3 L336.2,297.8 L337.7,298.2 L339.1,298.4 L340.6,298.3 L342.1,298.0 L343.5,297.5 L344.8,296.7 L346.0,295.8 L347.1,294.9 L348.3,294.0 L349.5,293.0 L350.6,292.0 L351.7,291.0 L352.8,290.0 L353.9,288.9 L354.9,287.8 L355.9,286.8 L357.0,285.7 L358.1,284.7 L359.2,283.7 L360.3,282.7 L361.5,281.7 L362.6,280.7 L363.7,279.7 L364.8,278.6 L365.9,277.6 L367.0,276.7 L368.3,275.8 L369.6,275.1 L370.9,274.5 L372.4,274.1 L373.8,273.9 L375.3,273.9 L376.8,273.9 L378.3,273.8 L379.8,273.7 L381.3,273.4 L382.7,273.0 L384.2,272.6 L385.6,272.1 L387.0,271.5 L388.3,270.8 L389.6,270.1 L391.0,269.4 L392.3,268.8 L393.8,268.3 L395.2,267.8 L396.6,267.3 L398.0,266.8 L399.4,266.2 L400.6,265.5 L401.8,264.6 L403.0,263.6 L404.1,262.6 L405.3,261.7 L406.6,261.0 L408.0,260.3 L409.3,259.6 L410.6,258.9 L411.9,258.1 L413.2,257.3 L414.4,256.5 L415.7,255.7 L417.0,254.9 L418.3,254.2 L419.5,253.4 L420.8,252.6 L422.1,251.8 L423.3,250.9 L424.5,250.1 L425.7,249.2 L427.0,248.3 L428.2,247.4 L429.3,246.5 L430.5,245.5 L431.7,244.6 L432.8,243.6 L434.0,242.7 L435.2,241.7 L436.4,240.9 L437.6,240.0 L438.9,239.2 L440.2,238.4 L441.4,237.6 L442.7,236.8 L444.0,236.1 L445.3,235.3 L446.5,234.5 L447.8,233.7 L449.1,232.9 L450.4,232.1 L451.6,231.3 L452.9,230.5 L454.2,229.7 L455.5,228.9 L456.7,228.1 L458.0,227.3 L459.3,226.5 L460.5,225.7 L461.8,224.9 L463.0,224.1 L464.3,223.3 L465.5,222.4 L466.8,221.6 L468.0,220.7 L469.2,219.9 L470.5,219.0 L471.7,218.1 L472.9,217.2 L474.1,216.4 L475.3,215.5 L476.5,214.6 L477.7,213.6 L478.9,212.7 L480.1,211.8 L481.2,210.9 L482.4,209.9 L483.5,208.9 L484.7,208.0 L485.8,207.0 L486.9,206.0 L488.0,205.0 L489.2,204.0 L490.3,203.0 L491.5,202.1 L492.7,201.2 L493.9,200.3 L495.2,199.5 L496.5,198.7 L497.7,197.9 L499.0,197.1 L500.3,196.3 L501.5,195.6 L502.8,194.8 L504.1,194.0 L505.3,193.2 L506.6,192.3 L507.8,191.4 L509.0,190.6 L510.2,189.7 L511.4,188.8 L512.6,187.9 L513.8,187.0 L515.0,186.0 L516.2,185.1 L517.4,184.2 L518.6,183.3 L519.7,182.3 L520.9,181.4 L522.0,180.4 L523.1,179.4 L524.3,178.4 L525.4,177.5 L526.6,176.6 L527.9,175.7 L529.1,174.9 L530.3,174.0 L531.6,173.1 L532.8,172.3 L534.0,171.5 L535.3,170.7 L536.6,169.8 L537.8,169.0 L539.1,168.3 L540.4,167.5 L541.6,166.7 L542.9,165.8 L544.1,164.9 L545.2,163.9 L546.1,162.8 L547.0,161.5 L547.9,160.3 L548.9,159.2 L550.0,158.2 L551.1,157.2 L552.2,156.2 L553.3,155.2 L554.5,154.2 L555.6,153.3 L556.7,152.3 L557.9,151.3 L559.0,150.3 L560.1,149.3 L561.3,148.3 L562.4,147.4 L563.5,146.4 L564.7,145.4 L565.7,144.3 L566.8,143.3 L567.8,142.1 L568.7,140.9 L569.4,139.7 L570.1,138.3 L570.5,136.9 L570.9,135.4 L571.2,134.0 L571.5,132.5 L571.8,131.0 L572.1,129.5 L572.4,128.1 L572.7,126.6 L572.9,125.1 L573.2,123.7 L573.6,122.2 L574.2,120.9 L575.1,120.0 L576.2,120.3 L577.3,121.2 L578.6,121.7 L580.1,121.8 L581.6,121.7 L583.1,121.4 L584.5,120.9 L585.8,120.2 L587.1,119.5 L588.4,118.7 L589.7,117.9 L590.9,117.1 L592.2,116.2 L593.4,115.3 L594.5,114.4 L595.7,113.5 L596.8,112.5 L597.9,111.5 L599.0,110.4 L600.1,109.4 L601.3,108.4 L602.4,107.5 L603.6,106.5 L604.7,105.5 L605.9,104.6 L607.0,103.6 L608.2,102.7 L609.3,101.7 L610.5,100.8 L611.6,99.8 L612.8,98.9 L614.0,97.9 L615.1,96.9 L616.3,96.0 L617.4,95.0 L618.5,94.0 L619.7,93.0 L620.8,92.0 L621.9,91.0 L623.0,90.0 L624.1,89.0 L625.2,88.0 L626.3,87.0 L627.5,86.0 L628.4,85.1 L628.6,84.9" fill="none" stroke="#10104e" stroke-width="1.0" stroke-linejoin="round"/>
<text x="29.10" y="23.50" font-size="12.30" fill="#0a0a0a" textLength="38.20" lengthAdjust="spacingAndGlyphs" stroke="#0a0a0a" stroke-width="0.50">TG /%</text>
<text x="81.50" y="23.50" font-size="12.60" fill="#0a0a0a" textLength="186.50" lengthAdjust="spacingAndGlyphs" stroke="#0a0a0a" stroke-width="0.50">[2] CMC.S.126.2019.1.ngb-ss3</text>
<text x="170.30" y="36.80" font-size="12.10" fill="#0a0a0a" textLength="18.50" lengthAdjust="spacingAndGlyphs" stroke="#0a0a0a" stroke-width="0.50">TG</text>
<text x="161.00" y="50.50" font-size="12.30" fill="#0a0a0a" textLength="27.60" lengthAdjust="spacingAndGlyphs" stroke="#0a0a0a" stroke-width="0.50">DSC</text>
<text x="349.80" y="27.90" font-size="20.60" fill="#0a0a0a" textLength="68.40" lengthAdjust="spacingAndGlyphs" font-family="'Liberation Serif', serif" font-weight="bold" stroke="#0a0a0a" stroke-width="0.70">Sample 2</text>
<text x="587.30" y="23.90" font-size="11.80" fill="#0a0a0a" textLength="92.80" lengthAdjust="spacingAndGlyphs" stroke="#0a0a0a" stroke-width="0.50">DSC /(mW/mg)</text>
<text x="612.90" y="46.00" font-size="12.80" fill="#0a0a0a" textLength="21.40" lengthAdjust="spacingAndGlyphs" stroke="#0a0a0a" stroke-width="0.50">exo</text>
<line x1="605.5" y1="38" x2="605.5" y2="46" stroke="#111" stroke-width="1.1"/>
<polygon points="602.9,45.2 608.1,45.2 605.5,48.8" fill="#111"/>
<text x="341.00" y="102.80" font-size="8.80" fill="#137018" textLength="82.00" lengthAdjust="spacingAndGlyphs" stroke="#137018" stroke-width="0.35">Mass Loss (Marsh):</text>
<text x="341.00" y="112.72" font-size="8.80" fill="#137018" textLength="25.70" lengthAdjust="spacingAndGlyphs" stroke="#137018" stroke-width="0.35">Onset:</text>
<text x="408.80" y="112.72" font-size="8.80" fill="#137018" textLength="36.50" lengthAdjust="spacingAndGlyphs" stroke="#137018" stroke-width="0.35">269.6 °C</text>
<text x="341.00" y="122.64" font-size="8.80" fill="#137018" textLength="16.60" lengthAdjust="spacingAndGlyphs" stroke="#137018" stroke-width="0.35">Mid:</text>
<text x="408.80" y="122.64" font-size="8.80" fill="#137018" textLength="36.50" lengthAdjust="spacingAndGlyphs" stroke="#137018" stroke-width="0.35">294.1 °C</text>
<text x="341.00" y="132.56" font-size="8.80" fill="#137018" textLength="38.50" lengthAdjust="spacingAndGlyphs" stroke="#137018" stroke-width="0.35">Inflection:</text>
<text x="408.80" y="132.56" font-size="8.80" fill="#137018" textLength="36.50" lengthAdjust="spacingAndGlyphs" stroke="#137018" stroke-width="0.35">290.3 °C</text>
<text x="341.00" y="142.48" font-size="8.80" fill="#137018" textLength="18.50" lengthAdjust="spacingAndGlyphs" stroke="#137018" stroke-width="0.35">End:</text>
<text x="408.80" y="142.48" font-size="8.80" fill="#137018" textLength="36.50" lengthAdjust="spacingAndGlyphs" stroke="#137018" stroke-width="0.35">319.5 °C</text>
<text x="341.00" y="152.40" font-size="8.80" fill="#137018" textLength="58.10" lengthAdjust="spacingAndGlyphs" stroke="#137018" stroke-width="0.35">Mass Change:</text>
<text x="411.10" y="152.40" font-size="8.80" fill="#137018" textLength="37.20" lengthAdjust="spacingAndGlyphs" stroke="#137018" stroke-width="0.35">-44.12 %</text>
<text x="526.50" y="204.80" font-size="8.80" fill="#137018" textLength="57.60" lengthAdjust="spacingAndGlyphs" stroke="#137018" stroke-width="0.35">Mass Change:</text>
<text x="589.90" y="204.80" font-size="8.80" fill="#137018" textLength="35.10" lengthAdjust="spacingAndGlyphs" stroke="#137018" stroke-width="0.35">-73.66 %</text>
<text x="463.00" y="329.70" font-size="8.80" fill="#137018" textLength="59.80" lengthAdjust="spacingAndGlyphs" stroke="#137018" stroke-width="0.35">Residual Mass:</text>
<text x="527.50" y="329.70" font-size="8.80" fill="#137018" textLength="82.30" lengthAdjust="spacingAndGlyphs" stroke="#137018" stroke-width="0.35">27.01 % (699.7 °C)</text>
<text x="619.20" y="327.00" font-size="6.80" fill="#137018" textLength="8.60" lengthAdjust="spacingAndGlyphs" stroke="#137018" stroke-width="0.25">[2]</text>
<text x="618.60" y="84.50" font-size="6.80" fill="#1a1a80" textLength="9.20" lengthAdjust="spacingAndGlyphs" stroke="#1a1a80" stroke-width="0.25">[2]</text>
<text x="129.60" y="316.90" font-size="8.80" fill="#1f2a8f" textLength="125.90" lengthAdjust="spacingAndGlyphs" stroke="#1f2a8f" stroke-width="0.35">Peak: 298.0 °C, -1.06 mW/mg</text>
</svg>
</body></html>
